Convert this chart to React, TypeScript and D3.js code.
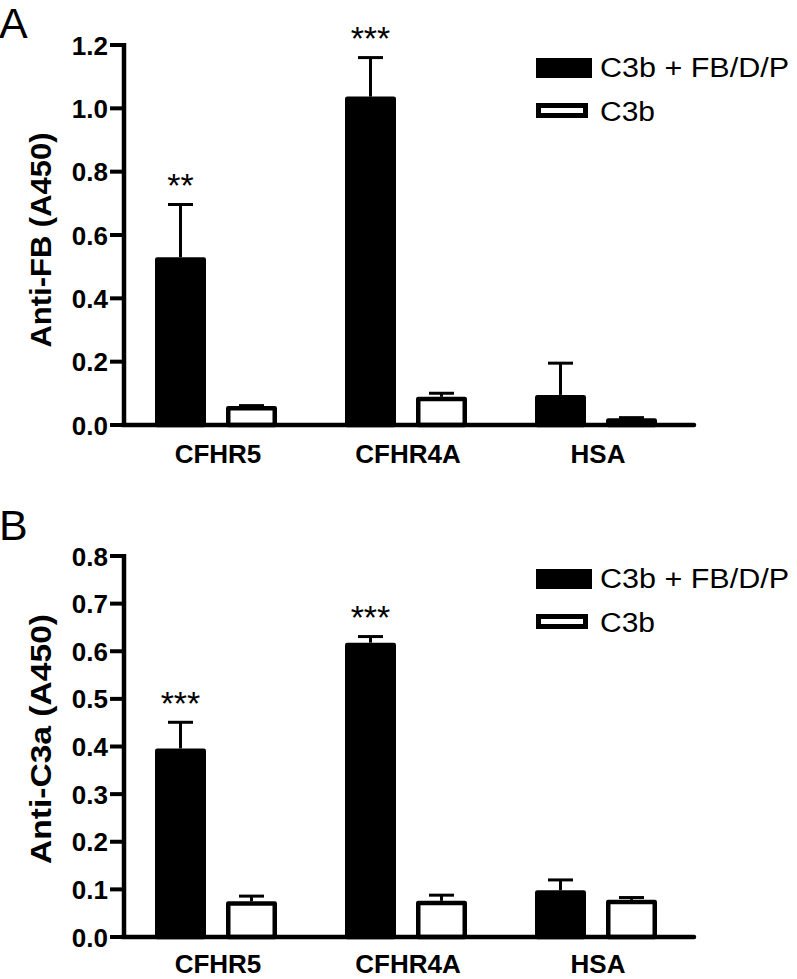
import React from 'react'
import * as d3 from 'd3'

const categories = ['CFHR5', 'CFHR4A', 'HSA']
const seriesNames = ['C3b + FB/D/P', 'C3b']

// panel A: anti-FB
const fbCombo = [0.53, 1.037, 0.095]
const fbComboErr = [0.701, 1.165, 0.2]
const fbC3b = [0.06, 0.089, 0.021]
const fbC3bErr = [0.066, 0.105, 0.028]
const fbStars = ['**', '***', '']
const fbTicks = [0, 0.2, 0.4, 0.6, 0.8, 1.0, 1.2]

// panel B: anti-C3a
const c3aCombo = [0.396, 0.618, 0.098]
const c3aComboErr = [0.454, 0.634, 0.123]
const c3aC3b = [0.075, 0.076, 0.078]
const c3aC3bErr = [0.089, 0.091, 0.086]
const c3aStars = ['***', '***', '']
const c3aTicks = [0, 0.1, 0.2, 0.3, 0.4, 0.5, 0.6, 0.7, 0.8]

const FONT = '"Liberation Sans", Arial, sans-serif'

type PanelProps = {
  letter: string
  letterY: number
  title: string
  titleY: number
  titleLen: number
  ticks: number[]
  yMax: number
  yBottom: number
  yTop: number
  labelDy: number
  combo: number[]
  comboErr: number[]
  c3b: number[]
  c3bErr: number[]
  stars: string[]
  legendY: number
}

function Panel(p: PanelProps) {
  const x = d3.scaleBand().domain(categories).range([124, 694])
  const inner = d3.scaleBand().domain(seriesNames).range([-64, 58]).paddingInner(20 / 71)
  const y = d3.scaleLinear().domain([0, p.yMax]).range([p.yBottom, p.yTop])
  const bw = inner.bandwidth()
  const fmt = d3.format('.1f')

  const bars: JSX.Element[] = []
  categories.forEach((c, i) => {
    const cx = x(c)! + x.bandwidth() / 2
    const groups = [
      { name: seriesNames[0], v: p.combo[i], e: p.comboErr[i], black: true },
      { name: seriesNames[1], v: p.c3b[i], e: p.c3bErr[i], black: false },
    ]
    groups.forEach((g) => {
      const bx = cx + inner(g.name)!
      const mid = bx + bw / 2
      bars.push(
        <g key={c + g.name}>
          <line x1={mid} x2={mid} y1={y(g.v)} y2={y(g.e) + 1.5} stroke="#000" strokeWidth={3} />
          <line x1={mid - 12.5} x2={mid + 12.5} y1={y(g.e) + 1.5} y2={y(g.e) + 1.5} stroke="#000" strokeWidth={3} />
          <rect
            x={bx + 2.25}
            y={y(g.v) + 2.25}
            width={bw - 4.5}
            height={Math.max(0, p.yBottom - y(g.v) - 2.25)}
            fill={g.black ? '#000' : '#fff'}
            stroke="#000"
            strokeWidth={4.5}
            strokeLinejoin="round"
          />
        </g>
      )
    })
    if (p.stars[i]) {
      const mid = cx + inner(seriesNames[0])! + bw / 2
      bars.push(
        <text key={c + 'star'} x={mid} y={y(p.comboErr[i]) - 30 + 24} textAnchor="middle" fontSize={34} fontFamily={FONT}>
          {p.stars[i]}
        </text>
      )
    }
  })

  return (
    <g>
      <text x={-1} y={p.letterY} fontSize={43} fontFamily={FONT}>{p.letter}</text>
      <text
        transform={`translate(51,${p.titleY}) rotate(-90)`}
        textAnchor="middle"
        fontSize={30}
        fontWeight="bold"
        fontFamily={FONT}
        textLength={p.titleLen}
        lengthAdjust="spacingAndGlyphs"
      >
        {p.title}
      </text>
      {bars}
      {/* y axis */}
      <line x1={124} x2={124} y1={p.yBottom} y2={y(p.yMax) - 2} stroke="#000" strokeWidth={4.5} />
      {p.ticks.map((t) => (
        <g key={t}>
          <line x1={110} x2={124} y1={y(t)} y2={y(t)} stroke="#000" strokeWidth={4} />
          <text x={108} y={y(t) + 9.5} textAnchor="end" fontSize={26} fontWeight="bold" fontFamily={FONT}>
            {fmt(t)}
          </text>
        </g>
      ))}
      {/* x axis */}
      <line x1={122} x2={694} y1={p.yBottom} y2={p.yBottom} stroke="#000" strokeWidth={4.5} strokeLinecap="round" />
      {categories.map((c) => (
        <text
          key={c}
          x={x(c)! + x.bandwidth() / 2 - 1}
          y={p.yBottom + p.labelDy}
          textAnchor="middle"
          fontSize={26}
          fontWeight="bold"
          fontFamily={FONT}
        >
          {c}
        </text>
      ))}
      {/* legend */}
      <rect x={536} y={p.legendY} width={56} height={20} fill="#000" />
      <text x={600} y={p.legendY + 19} fontSize={27} fontFamily={FONT} textLength={189} lengthAdjust="spacingAndGlyphs">
        {seriesNames[0]}
      </text>
      <rect x={538.5} y={p.legendY + 47.5} width={47} height={10} fill="#fff" stroke="#000" strokeWidth={5} />
      <text x={600} y={p.legendY + 63} fontSize={27} fontFamily={FONT} textLength={55} lengthAdjust="spacingAndGlyphs">
        {seriesNames[1]}
      </text>
    </g>
  )
}

export default function App() {
  return (
    <svg
      width={797}
      height={979}
      style={{ position: 'absolute', left: 0, top: 0, background: '#fff' }}
    >
      <rect width={797} height={979} fill="#fff" />
      <Panel
        letter="A"
        letterY={38}
        title="Anti-FB (A450)"
        titleY={240}
        titleLen={215}
        ticks={fbTicks}
        yMax={1.2}
        yBottom={425}
        yTop={45}
        labelDy={38}
        combo={fbCombo}
        comboErr={fbComboErr}
        c3b={fbC3b}
        c3bErr={fbC3bErr}
        stars={fbStars}
        legendY={58}
      />
      <Panel
        letter="B"
        letterY={540}
        title="Anti-C3a (A450)"
        titleY={739}
        titleLen={250}
        ticks={c3aTicks}
        yMax={0.8}
        yBottom={937}
        yTop={556}
        labelDy={36}
        combo={c3aCombo}
        comboErr={c3aComboErr}
        c3b={c3aC3b}
        c3bErr={c3aC3bErr}
        stars={c3aStars}
        legendY={569}
      />
    </svg>
  )
}
